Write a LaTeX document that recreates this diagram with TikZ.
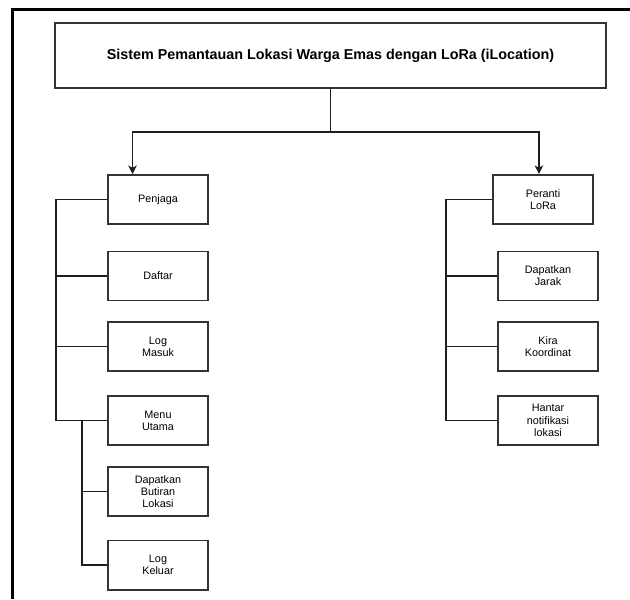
\documentclass[tikz,border=0pt]{standalone}
\usepackage{fontspec}
\setmainfont{Liberation Sans}
\usepackage{xcolor}
\usetikzlibrary{arrows.meta, positioning, calc}
\definecolor{boxline}{RGB}{51,51,51}
\definecolor{linkline}{RGB}{30,30,30}

\tikzset{
  box/.style={draw=boxline, line width=1.4pt, minimum width=2.5cm,
              minimum height=1.225cm, align=center, inner sep=1pt,
              font=\fontsize{7.7}{8.7}\selectfont},
  link/.style={draw=linkline, line width=1.3pt},
  arrow/.style={link, -{Stealth[length=6pt, width=6pt, inset=1.5pt]}}
}

\begin{document}
\begin{tikzpicture}[x=0.025cm, y=-0.025cm]
\useasboundingbox (0,0) rectangle (630,599);
% Frame
\draw[line width=2.5pt, black] (12.5,599) -- (12.5,9.5) -- (630,9.5);
% Title
\node[box, minimum width=13.775cm, minimum height=1.625cm,
      font=\bfseries\fontsize{10.2}{12}\selectfont] (title) at (330.5,55.5)
  {Sistem Pemantauan Lokasi Warga Emas dengan LoRa (iLocation)};
% Left column
\foreach \n/\y/\lbl in {penjaga/199.5/Penjaga, daftar/276/Daftar,
                        logmasuk/346.5/{Log\\Masuk}, menu/420.5/{Menu\\Utama},
                        butiran/491.5/{Dapatkan\\Butiran\\Lokasi},
                        logkeluar/565/{Log\\Keluar}} {
  \node[box] (\n) at (158,\y) {\lbl};
}
% Right column
\node[box] (peranti) at (543,199.5) {Peranti\\LoRa};
\foreach \n/\y/\lbl in {jarak/276/{Dapatkan\\Jarak}, kira/346.5/{Kira\\Koordinat},
                        hantar/420.5/{Hantar\\notifikasi\\lokasi}} {
  \node[box] (\n) at (548,\y) {\lbl};
}
% Title to the two branches
\coordinate (split) at (330.5,132);
\draw[link] (title.south) -- (split);
\draw[arrow] (split) -| ($(penjaga.north west)!0.25!(penjaga.north east)$);
\draw[arrow] (split) -| ($(peranti.north west)!0.46!(peranti.north east)$);
% Left trunk
\coordinate (ltrunk) at (56,0);
\draw[link] (penjaga.west) -- (penjaga.west -| ltrunk) -- (menu.west -| ltrunk) -- (menu.west);
\foreach \n in {daftar, logmasuk} {
  \draw[link] (\n.west -| ltrunk) -- (\n.west);
}
% Menu sub-trunk
\coordinate (lsub) at (82,0);
\draw[link] (menu.west -| lsub) -- (logkeluar.west -| lsub) -- (logkeluar.west);
\draw[link] (butiran.west -| lsub) -- (butiran.west);
% Right trunk
\coordinate (rtrunk) at (446,0);
\draw[link] (peranti.west) -- (peranti.west -| rtrunk) -- (hantar.west -| rtrunk) -- (hantar.west);
\foreach \n in {jarak, kira} {
  \draw[link] (\n.west -| rtrunk) -- (\n.west);
}
\end{tikzpicture}
\end{document}
